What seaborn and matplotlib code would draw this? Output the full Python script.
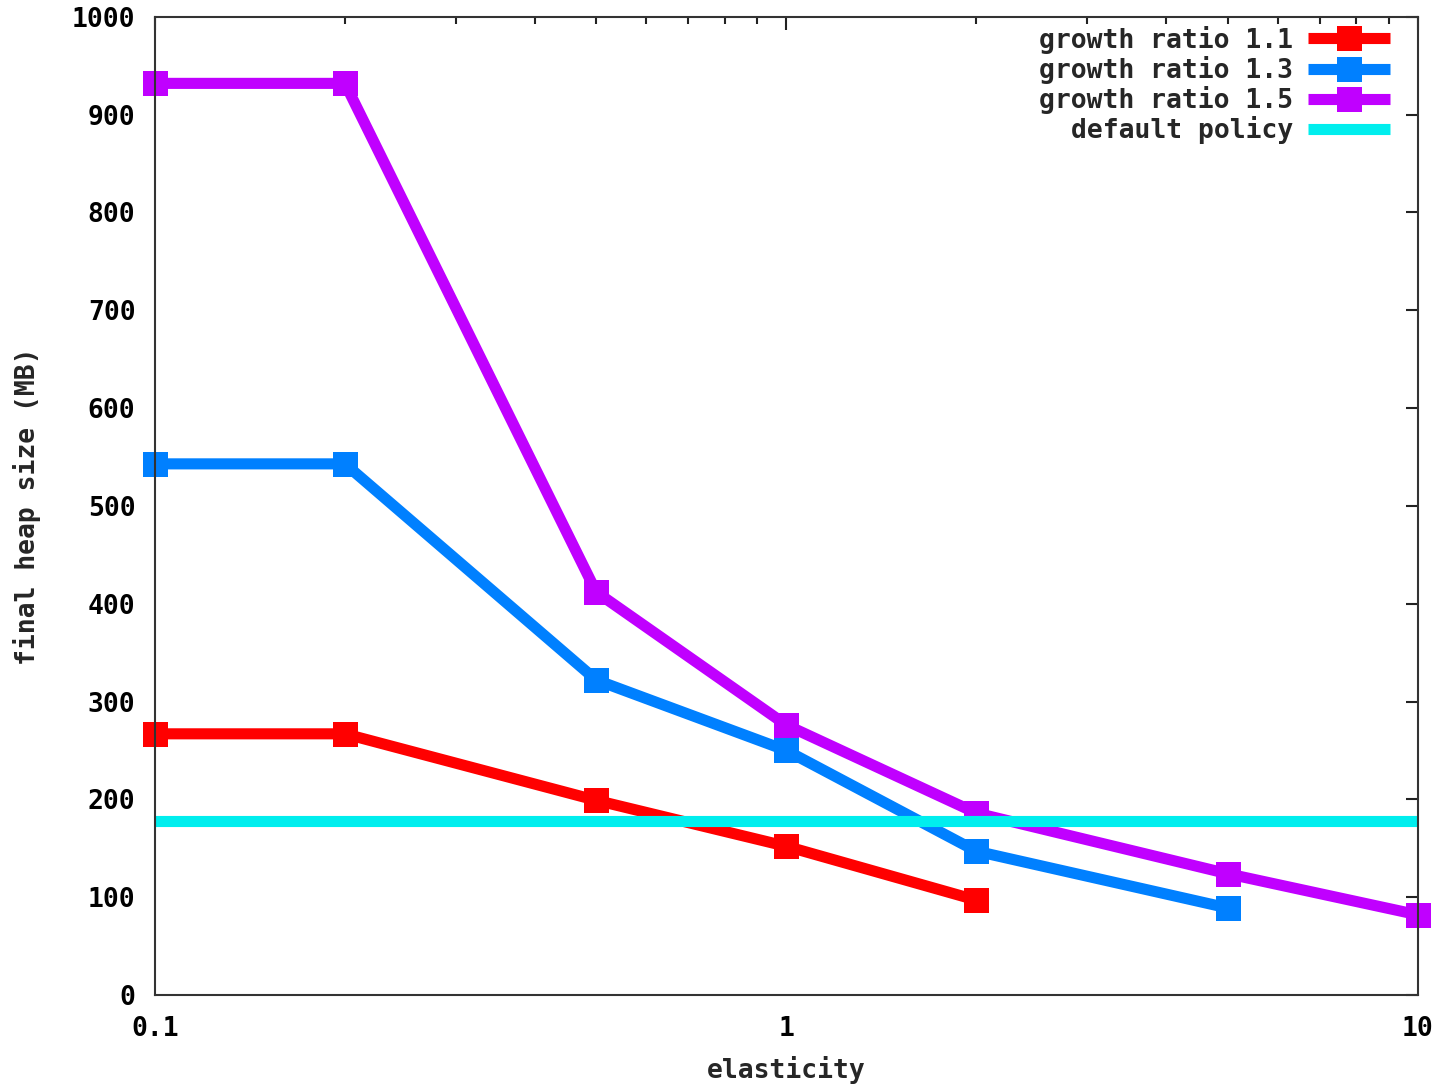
import matplotlib
matplotlib.use("Agg")
import matplotlib.pyplot as plt
import matplotlib.ticker as mticker
import seaborn as sns
import pandas as pd

# Final heap size (MB) versus elasticity for three heap growth ratios
elasticity = [0.1, 0.2, 0.5, 1, 2, 5, 10]
ratio_11 = [267, 267, 199, 152, 97]
ratio_13 = [543, 543, 322, 250, 147, 89]
ratio_15 = [932, 932, 412, 276, 186, 124, 82]
default_policy = 178

series_names = ["growth ratio 1.1", "growth ratio 1.3", "growth ratio 1.5"]
series_values = [ratio_11, ratio_13, ratio_15]
series_colors = ["#ff0000", "#0080ff", "#c000ff"]

rows = []
for name, vals in zip(series_names, series_values):
    for x, y in zip(elasticity, vals):
        rows.append({"elasticity": x, "heap": y, "series": name})
df = pd.DataFrame(rows)

sns.set_style("white")
plt.rcParams["font.family"] = ["DejaVu Sans Mono"]
plt.rcParams["font.weight"] = "bold"

FS = 19

fig = plt.figure(figsize=(14.48, 10.88), dpi=100)
ax = fig.add_axes([0.107, 0.0855, 0.872, 0.899])

for name, color in zip(series_names, series_colors):
    sns.lineplot(data=df[df["series"] == name], x="elasticity", y="heap",
                 color=color, linewidth=8, marker="s", markersize=18,
                 markeredgewidth=0, label=name, ax=ax, zorder=3,
                 solid_capstyle="butt", solid_joinstyle="miter", clip_on=False)

ax.axhline(default_policy, color="#00eeee", linewidth=8, label="default policy",
           zorder=4, solid_capstyle="butt")

ax.set_xscale("log")
ax.set_xlim(0.1, 10)
ax.set_ylim(0, 1000)
ax.xaxis.set_major_locator(mticker.FixedLocator([0.1, 1, 10]))
ax.xaxis.set_major_formatter(mticker.FixedFormatter(["0.1", "1", "10"]))
ax.xaxis.set_minor_locator(mticker.LogLocator(base=10, subs=range(2, 10)))
ax.xaxis.set_minor_formatter(mticker.NullFormatter())
ax.yaxis.set_major_locator(mticker.MultipleLocator(100))

for s in ax.spines.values():
    s.set_color("#333333")
    s.set_linewidth(1.5)
    s.set_zorder(5)

ax.tick_params(axis="both", which="both", direction="in", top=True, right=True,
               colors="#222222", labelcolor="black", labelsize=FS)
ax.tick_params(which="major", length=9, width=1.5)
ax.tick_params(which="minor", length=5, width=1.5)
ax.tick_params(axis="y", pad=14)
ax.tick_params(axis="x", pad=15)
for lbl in ax.get_xticklabels() + ax.get_yticklabels():
    lbl.set_fontweight("bold")

ax.set_xlabel("elasticity", fontsize=FS, fontweight="bold", labelpad=10)
ax.set_ylabel("final heap size (MB)", fontsize=FS, fontweight="bold", labelpad=22)

leg = ax.legend(loc="upper right", bbox_to_anchor=(0.978, 0.991), frameon=False,
                markerfirst=False, handlelength=3.1, handletextpad=0.57,
                borderaxespad=0, borderpad=0, labelspacing=0.08,
                prop={"weight": "bold", "size": FS})
for t in leg.get_texts():
    t.set_ha("right")

fig.savefig("out.png", dpi=100, facecolor="white")
